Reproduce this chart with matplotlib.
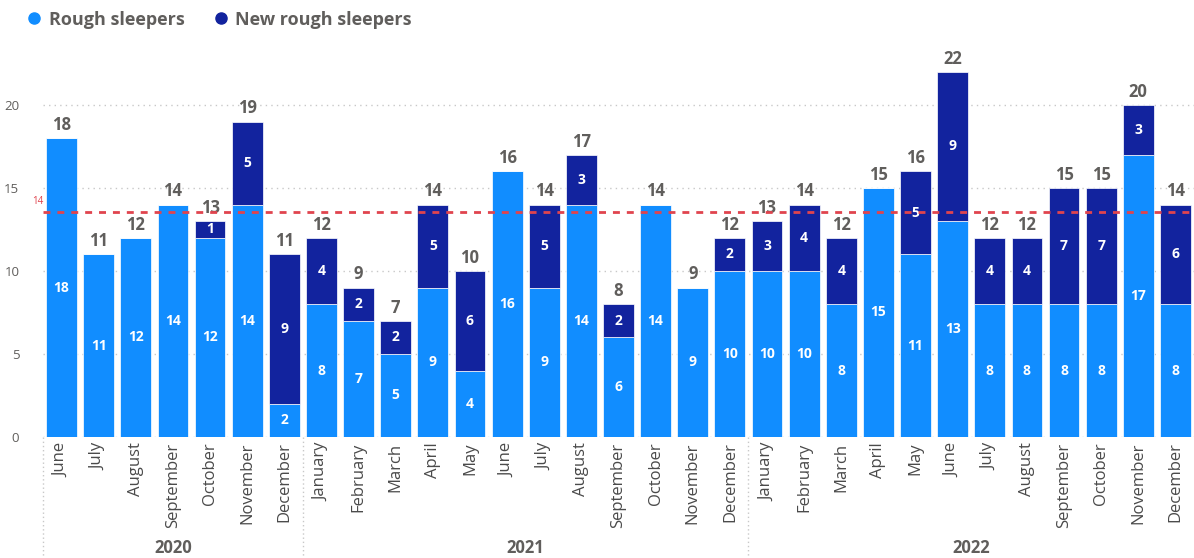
import matplotlib.pyplot as plt
from matplotlib.lines import Line2D
import numpy as np

plt.rcParams['font.family'] = ['Open Sans', 'DejaVu Sans']

months = ['June', 'July', 'August', 'September', 'October', 'November', 'December',
          'January', 'February', 'March', 'April', 'May', 'June', 'July', 'August',
          'September', 'October', 'November', 'December',
          'January', 'February', 'March', 'April', 'May', 'June', 'July', 'August',
          'September', 'October', 'November', 'December']
years = ['2020', '2021', '2022']
year_counts = [7, 12, 12]
rough = [18, 11, 12, 14, 12, 14, 2,
         8, 7, 5, 9, 4, 16, 9, 14, 6, 14, 9, 10,
         10, 10, 8, 15, 11, 13, 8, 8, 8, 8, 17, 8]
new_rough = [0, 0, 0, 0, 1, 5, 9,
             4, 2, 2, 5, 6, 0, 5, 3, 2, 0, 0, 2,
             3, 4, 4, 0, 5, 9, 4, 4, 7, 7, 3, 6]

c_light = '#118DFF'
c_dark = '#12239E'
grey = '#605E5C'

rough = np.array(rough)
new_rough = np.array(new_rough)
totals = rough + new_rough
x = np.arange(len(months))

fig = plt.figure(figsize=(11.94, 5.58), dpi=100)
ax = fig.add_axes([0.036, 0.217, 0.964, 0.711])

ax.bar(x, rough, width=0.83, color=c_light, edgecolor='white', linewidth=0.5, zorder=3)
ax.bar(x, new_rough, width=0.83, bottom=rough, color=c_dark, edgecolor='white', linewidth=0.5, zorder=3)

for i in range(len(x)):
    if rough[i] > 0:
        ax.text(x[i], rough[i] / 2, str(rough[i]), ha='center', va='center',
                color='white', fontsize=10, fontweight='bold', zorder=4)
    if new_rough[i] > 0:
        ax.text(x[i], rough[i] + new_rough[i] / 2, str(new_rough[i]), ha='center', va='center',
                color='white', fontsize=10, fontweight='bold', zorder=4)
    ax.text(x[i], totals[i] + 0.25, str(totals[i]), ha='center', va='bottom',
            color=grey, fontsize=12, fontweight='bold', zorder=4)

avg = totals.mean()
ax.axhline(avg, color='#E0444E', linestyle=(0, (2.5, 2.5)), linewidth=2, zorder=5)
ax.text(-0.8, avg + 0.3, f'{avg:.0f}', color='#E0444E', fontsize=7, ha='left', va='bottom')

ax.set_xlim(-0.5, len(x) - 0.5)
ax.set_ylim(0, 23.9)
ax.set_yticks([0, 5, 10, 15, 20])
ax.grid(axis='y', color='#C8C8C8', linestyle=(0, (1, 3)), linewidth=1, zorder=0)
ax.tick_params(axis='y', length=0, labelcolor=grey, labelsize=9.5, pad=17)
for s in ax.spines.values():
    s.set_visible(False)

ax.set_xticks(x)
ax.set_xticklabels(months, rotation=90, fontsize=12, color='#4a4a4a')
ax.tick_params(axis='x', length=0, pad=4)

# year groups below month labels
start = 0
for yr, n in zip(years, year_counts):
    ax.plot([start - 0.5, start - 0.5], [0, -0.31], transform=ax.get_xaxis_transform(),
            color='#C8C8C8', linestyle=(0, (1, 2)), linewidth=1, clip_on=False)
    ax.text(start + (n - 1) / 2, -0.28, yr, transform=ax.get_xaxis_transform(),
            ha='center', va='center', fontsize=12, fontweight='bold', color=grey)
    start += n

handles = [Line2D([], [], marker='o', linestyle='', markersize=8, color=c_light),
           Line2D([], [], marker='o', linestyle='', markersize=8, color=c_dark)]
fig.legend(handles, ['Rough sleepers', 'New rough sleepers'], loc='upper left',
           bbox_to_anchor=(0.0, 1.01), ncol=2, frameon=False, handletextpad=-0.2,
           columnspacing=1.0, prop={'size': 13, 'weight': 'bold'}, labelcolor=grey)

fig.savefig('out.png', dpi=100)
